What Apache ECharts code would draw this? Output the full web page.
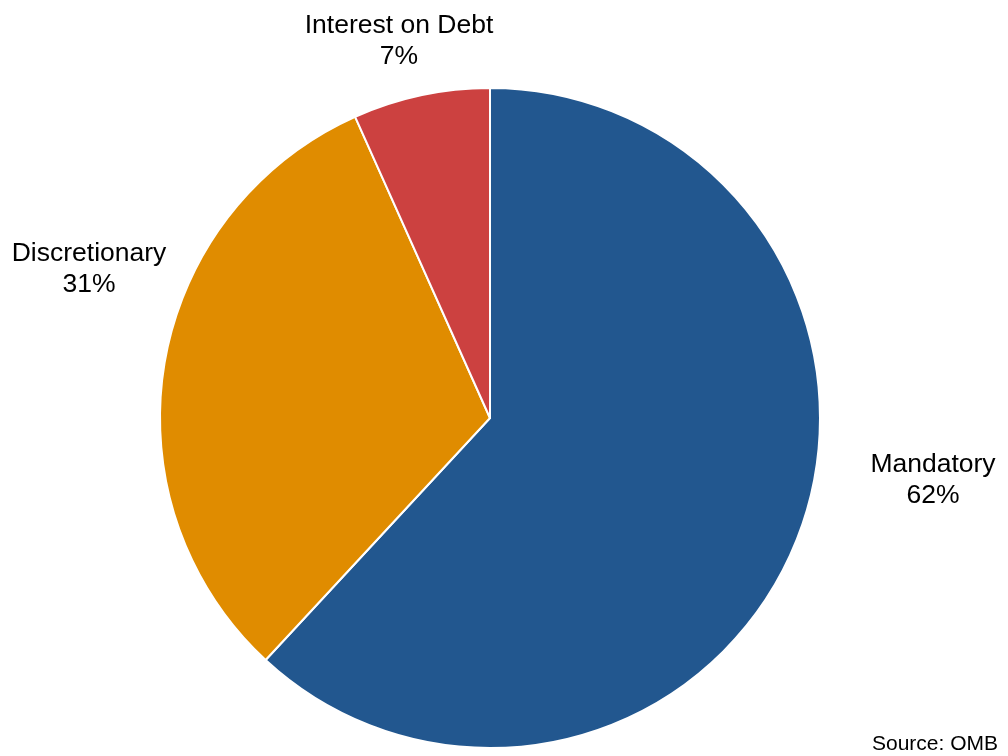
<!DOCTYPE html>
<html><head><meta charset="utf-8">
<script src="https://cdn.jsdelivr.net/npm/echarts@6/dist/echarts.min.js"></script>
<style>html,body{margin:0;padding:0;background:#fff}#c{width:1008px;height:756px}</style>
</head><body><div id="c"></div>
<script>
const categories = ['Mandatory', 'Discretionary', 'Interest on Debt'];
const shares = [61.9, 31.4, 6.7];
const colors = ['#22578F', '#E08C00', '#CC4140'];
const source = 'Source: OMB';
const labelPos = [[933, 480], [89, 269], [399, 41]];

const chart = echarts.init(document.getElementById('c'));
chart.setOption({
  animation: false,
  backgroundColor: '#fff',
  title: {
    text: source, right: 5, top: 729,
    textStyle: {fontFamily: 'Liberation Sans', fontSize: 21, fontWeight: 'normal', color: '#000'}
  },
  series: [{
    type: 'pie',
    center: [490, 418],
    radius: 330,
    startAngle: 90,
    clockwise: true,
    data: categories.map((c, i) => ({name: c, value: shares[i], itemStyle: {color: colors[i]}})),
    itemStyle: {borderColor: '#fff', borderWidth: 2},
    label: {
      show: true, position: 'outside', overflow: 'none', width: 300,
      formatter: p => p.name + '\n' + Math.round(p.value) + '%',
      fontFamily: 'Liberation Sans', fontSize: 26.5, lineHeight: 31, color: '#000', align: 'center'
    },
    labelLine: {show: false},
    labelLayout: p => ({x: labelPos[p.dataIndex][0], y: labelPos[p.dataIndex][1], align: 'center', verticalAlign: 'middle'}),
    emphasis: {disabled: true}
  }]
});
</script></body></html>
